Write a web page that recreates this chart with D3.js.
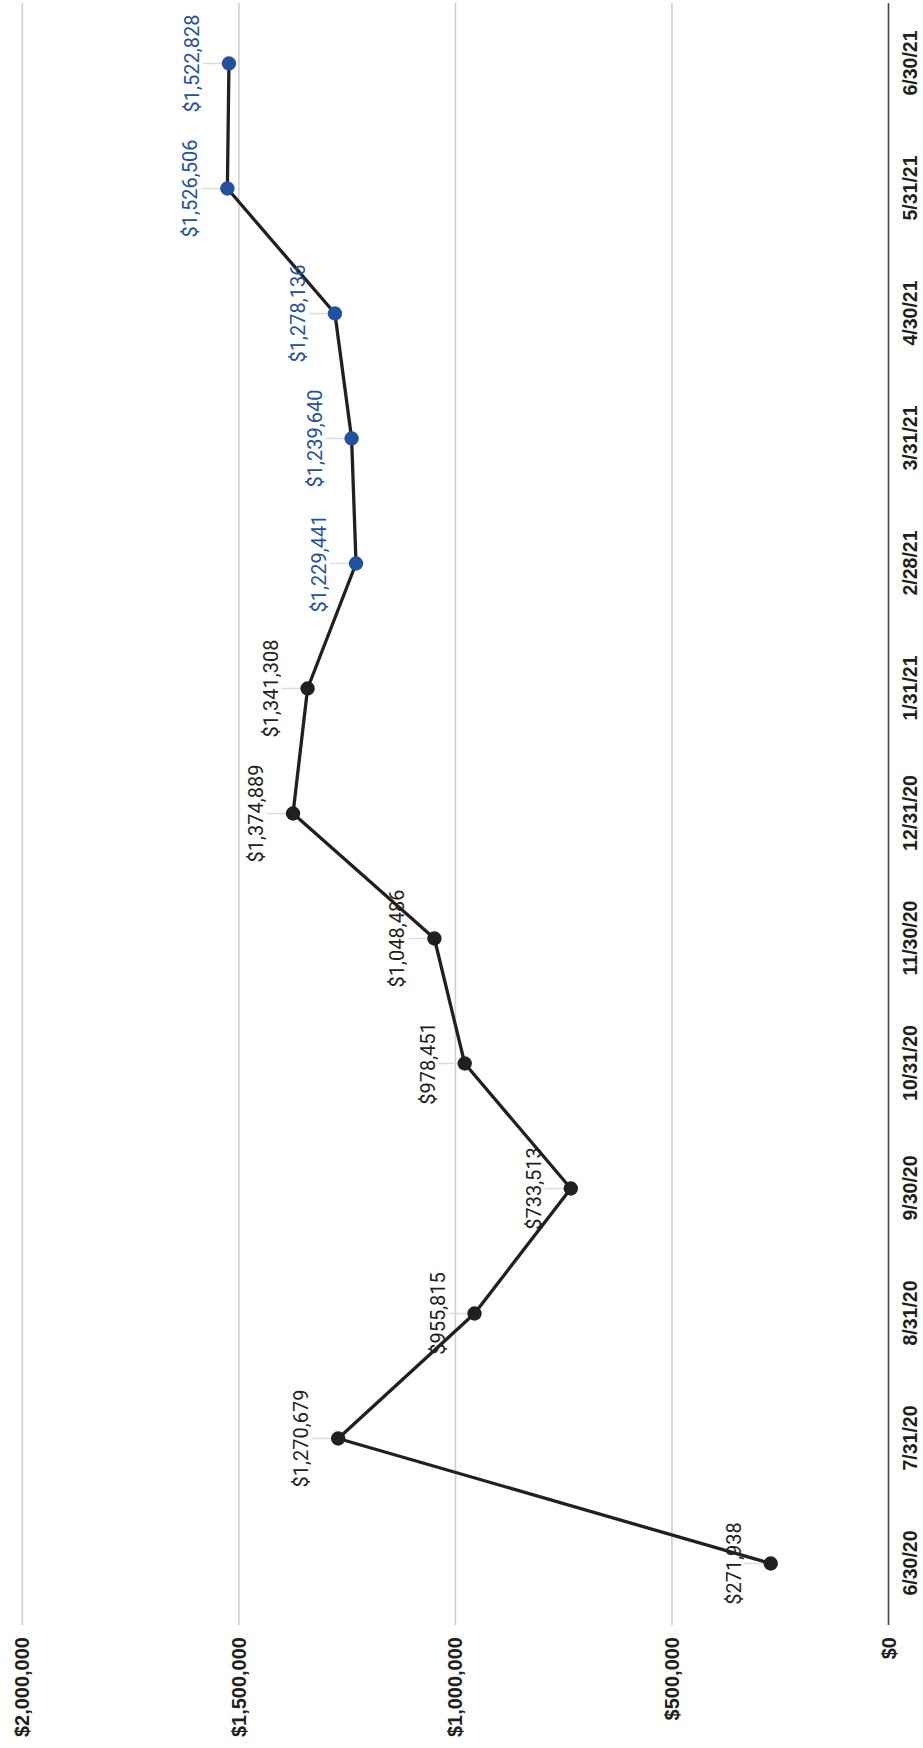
<!DOCTYPE html>
<html>
<head>
<meta charset="utf-8">
<script src="https://cdn.jsdelivr.net/npm/d3@7"></script>
<style>
  html, body { margin: 0; padding: 0; background: #ffffff; }
  svg { display: block; }
</style>
</head>
<body>
<svg id="chart" width="923" height="1748"></svg>
<script>
// ---- data ----
const categories = ["6/30/20","7/31/20","8/31/20","9/30/20","10/31/20","11/30/20","12/31/20","1/31/21","2/28/21","3/31/21","4/30/21","5/31/21","6/30/21"];
const values = [271938, 1270679, 955815, 733513, 978451, 1048486, 1374889, 1341308, 1229441, 1239640, 1278136, 1526506, 1522828];
const pointGroups = ["past","past","past","past","past","past","past","past","recent","recent","recent","recent","recent"];
const valueTicks = [0, 500000, 1000000, 1500000, 2000000];

// ---- layout (chart drawn in landscape, then rotated -90deg) ----
const W = 1748, H = 923;
const plotLeft = 123, plotRight = 1745;
const colors = { past: "#231f20", recent: "#2351a1" };

const svg = d3.select("#chart");
const g = svg.append("g").attr("transform", `translate(0,${W}) rotate(-90)`);

const x = d3.scalePoint().domain(categories).range([122, 1747]).padding(0.5);
const y = d3.scaleLinear().domain([0, 2000000]).range([888.5, 22.3]);
const fmt = v => "$" + d3.format(",")(v);

// gridlines
g.append("g").selectAll("line").data(valueTicks.filter(d => d > 0)).join("line")
  .attr("x1", plotLeft).attr("x2", plotRight)
  .attr("y1", d => y(d)).attr("y2", d => y(d))
  .attr("stroke", "#cfcfcf").attr("stroke-width", 1.6);

// value axis labels
g.append("g").selectAll("text").data(valueTicks).join("text")
  .attr("x", plotLeft - 12).attr("y", d => y(d))
  .attr("dy", "0.35em")
  .attr("text-anchor", "end")
  .attr("font-family", "'Liberation Sans', Arial, sans-serif")
  .attr("font-weight", "bold").attr("font-size", 20)
  .attr("fill", "#231f20")
  .text(fmt);

// baseline axis
g.append("line")
  .attr("x1", plotLeft).attr("x2", plotRight)
  .attr("y1", y(0)).attr("y2", y(0))
  .attr("stroke", "#444").attr("stroke-width", 1.6);

// category labels
const xAxis = d3.axisBottom(x).tickSize(0).tickPadding(0);
const xg = g.append("g").attr("transform", `translate(0,${y(0)})`).call(xAxis);
xg.select(".domain").remove();
xg.selectAll("text")
  .attr("y", 28).attr("dy", 0)
  .attr("font-family", "'Liberation Sans', Arial, sans-serif")
  .attr("font-weight", "bold").attr("font-size", 19.5)
  .attr("fill", "#231f20");

const pts = categories.map((c, i) => ({ c, v: values[i], grp: pointGroups[i] }));

// leader lines
g.append("g").selectAll("line").data(pts).join("line")
  .attr("x1", d => x(d.c)).attr("x2", d => x(d.c))
  .attr("y1", d => y(d.v) - 26).attr("y2", d => y(d.v))
  .attr("stroke", "#dddddd").attr("stroke-width", 1.5);

// line
g.append("path").datum(pts)
  .attr("fill", "none").attr("stroke", "#231f20").attr("stroke-width", 3.3)
  .attr("stroke-linejoin", "round")
  .attr("d", d3.line().x(d => x(d.c)).y(d => y(d.v)));

// dots
g.append("g").selectAll("circle").data(pts).join("circle")
  .attr("cx", d => x(d.c)).attr("cy", d => y(d.v)).attr("r", 7.2)
  .attr("fill", d => colors[d.grp]);

// data labels
g.append("g").selectAll("text").data(pts).join("text")
  .attr("x", d => x(d.c)).attr("y", d => y(d.v) - 30)
  .attr("text-anchor", "middle")
  .attr("font-family", "Roboto, sans-serif")
  .attr("font-size", 20)
  .attr("fill", d => colors[d.grp])
  .text(d => fmt(d.v));
</script>
</body>
</html>
